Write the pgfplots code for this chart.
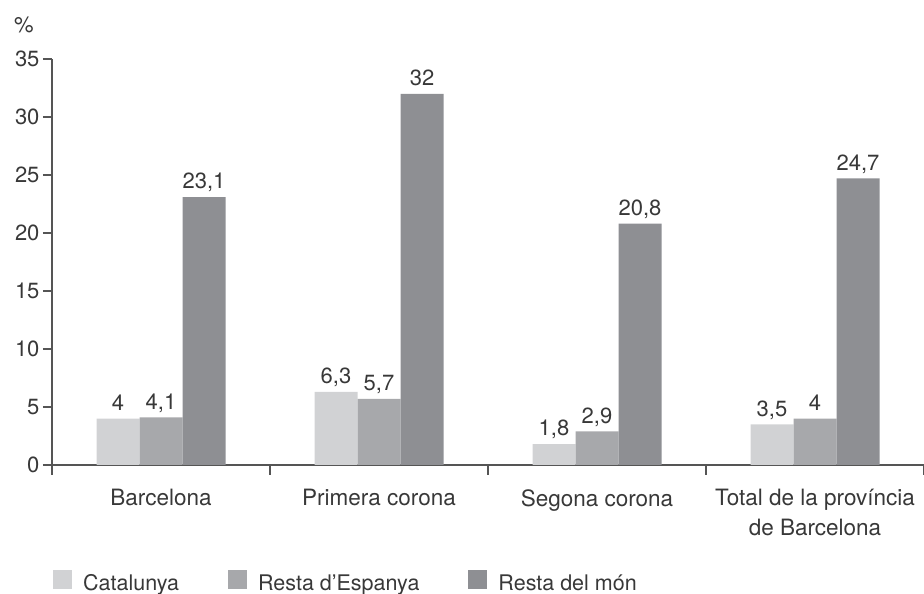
\documentclass[border=0pt]{standalone}
\usepackage{pgfplots}
\pgfplotsset{compat=1.18}
\usepackage{fontspec}
\setmainfont{TeX Gyre Heros}

\definecolor{cat}{HTML}{D1D2D4}
\definecolor{esp}{HTML}{A7A8AB}
\definecolor{mon}{HTML}{8E8F93}
\definecolor{axisgray}{HTML}{555555}
\definecolor{txt}{HTML}{383838}

\begin{document}
\begin{tikzpicture}
\useasboundingbox (0,0) rectangle (924pt,594pt);
\begin{axis}[
    at={(52pt,129pt)}, anchor=south west,
    scale only axis,
    width=872pt, height=406pt,
    xmin=-0.5, xmax=3.5,
    ymin=0, ymax=35,
    axis lines=left,
    axis line style={-, line width=1.2pt, color=axisgray},
    ytick={0,5,...,35},
    xtick={0,1,2,3},
    xticklabels={Barcelona, Primera corona, Segona corona, {Total de la província\\de Barcelona}},
    minor xtick={-0.5,0.5,1.5,2.5,3.5},
    tick align=outside,
    major tick length=9pt,
    minor tick length=10pt,
    major x tick style={draw=none},
    tick style={color=axisgray, line width=1.2pt},
    ticklabel style={font=\fontsize{22}{26}\selectfont, text=txt},
    yticklabel style={/pgf/number format/assume math mode=true},
    xticklabel style={align=center, anchor=north, yshift=-12pt, font=\fontsize{22.5}{30}\selectfont},
    ybar=0pt, bar width=43pt,
    nodes near coords={\pgfmathprintnumber[use comma, fixed, precision=1, assume math mode=true]{\pgfplotspointmeta}},
    every node near coord/.append style={font=\fontsize{22}{26}\selectfont, text=txt, anchor=south, inner sep=0pt, text depth=0pt, yshift=8pt},
    legend style={at={(rel axis cs:0,0)}, anchor=south west, xshift=1pt, yshift=-129pt,
        legend columns=3, draw=none, fill=none, inner sep=0pt,
        font=\fontsize{21.5}{24}\selectfont, text=txt,
        /tikz/every odd column/.append style={column sep=9pt},
        /tikz/every even column/.append style={column sep=47pt}},
    legend image code/.code={\fill[#1, draw=none] (0pt,-6pt) rectangle (19pt,13pt);},
]
\addplot[fill=cat, draw=none] coordinates {(0,4) (1,6.3) (2,1.8) (3,3.5)};
\addplot[fill=esp, draw=none] coordinates {(0,4.1) (1,5.7) (2,2.9) (3,4)};
\addplot[fill=mon, draw=none] coordinates {(0,23.1) (1,32) (2,20.8) (3,24.7)};
\legend{Catalunya, Resta d'Espanya, Resta del món}
\end{axis}
\node[font=\fontsize{22}{26}\selectfont, text=txt] at (24pt,569pt) {\%};
\end{tikzpicture}
\end{document}
